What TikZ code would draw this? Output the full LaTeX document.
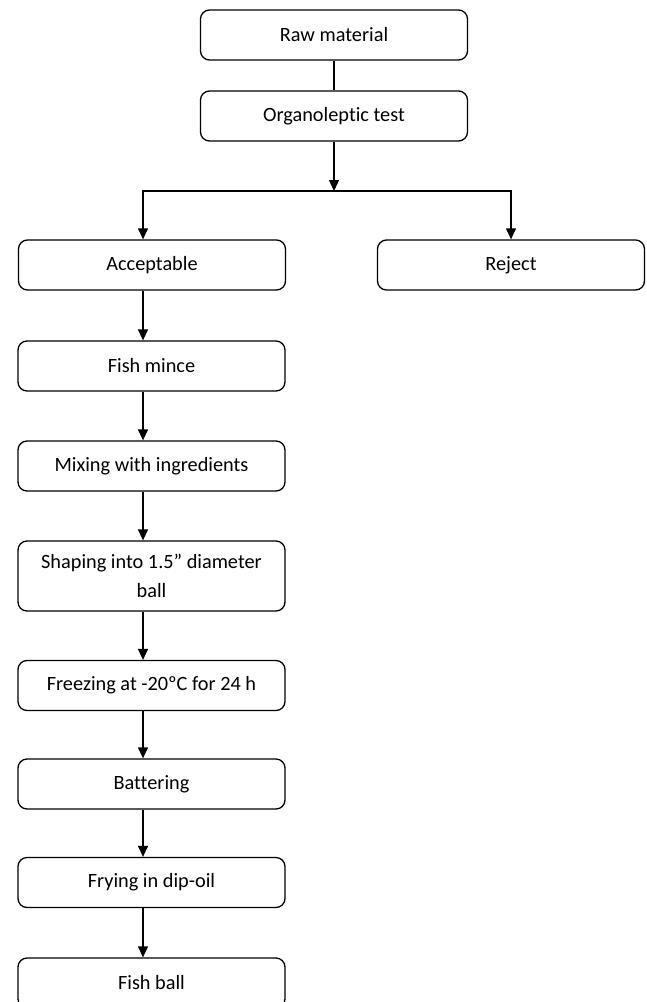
\documentclass[tikz,border=0pt]{standalone}
\usepackage{fontspec}
\setmainfont{Carlito}[Ligatures={NoCommon,NoRare}]
\usepackage{tikz}
\usetikzlibrary{positioning, arrows.meta}
\newcommand{\boxcolor}{black}

\begin{document}
\begin{tikzpicture}[
      % GLOBAL CFG
      x=1pt, y=-1pt,
      font=\fontsize{20.3}{29}\selectfont,
      >={Triangle[length=11pt,width=10pt]},
      % Styles
      step box/.style={% For process steps
        rectangle,
        rounded corners=9pt,
        draw=\boxcolor,
        line width=1.3pt,
        align=center,
        minimum height=50pt,
        minimum width=267pt,
        inner sep=2pt
      },
      arrowflow/.style={% Arrows between steps
        line width=1.3pt,
        ->,
      },
      linkflow/.style={% Plain link
        line width=1.3pt,
      }
      ]
      \useasboundingbox (0,0) rectangle (647,1002);

      % Top of the chart
      \node [step box] (raw) at (334,35) {Raw material};
      \node [step box] (organo) at (334,116) {Organoleptic test};
      \draw [linkflow] (raw) -- (organo);

      % Split into the two outcomes
      \coordinate (split) at (334,191);
      \coordinate (col) at (143,0);
      \node [step box] (accept) at (152,265) {Acceptable};
      \node [step box] (reject) at (511,265) {Reject};
      \draw [arrowflow] (organo) -- (split);
      \draw [arrowflow] (split) -| (reject.north);
      \draw [arrowflow] (split) -| (accept.north -| col);

      % Processing steps
      \node [step box] (fish) at (151.5,366) {Fish mince};
      \node [step box] (mix) at (151.5,466) {Mixing with ingredients};
      \node [step box, minimum height=70pt] (shape) at (151.5,576) {Shaping into 1.5” diameter\\ball};
      \node [step box] (freeze) at (151.5,685.5) {Freezing at -20ºC for 24 h};
      \node [step box] (batter) at (151.5,784) {Battering};
      \node [step box] (fry) at (151.5,882.5) {Frying in dip-oil};
      \node [step box] (fishball) at (151.5,983) {Fish ball};

      \draw [arrowflow] (accept.south -| col) -- (fish.north -| col);
      \draw [arrowflow] (fish.south -| col) -- (mix.north -| col);
      \draw [arrowflow] (mix.south -| col) -- (shape.north -| col);
      \draw [arrowflow] (shape.south -| col) -- (freeze.north -| col);
      \draw [arrowflow] (freeze.south -| col) -- (batter.north -| col);
      \draw [arrowflow] (batter.south -| col) -- (fry.north -| col);
      \draw [arrowflow] (fry.south -| col) -- (fishball.north -| col);

    \end{tikzpicture}
\end{document}
